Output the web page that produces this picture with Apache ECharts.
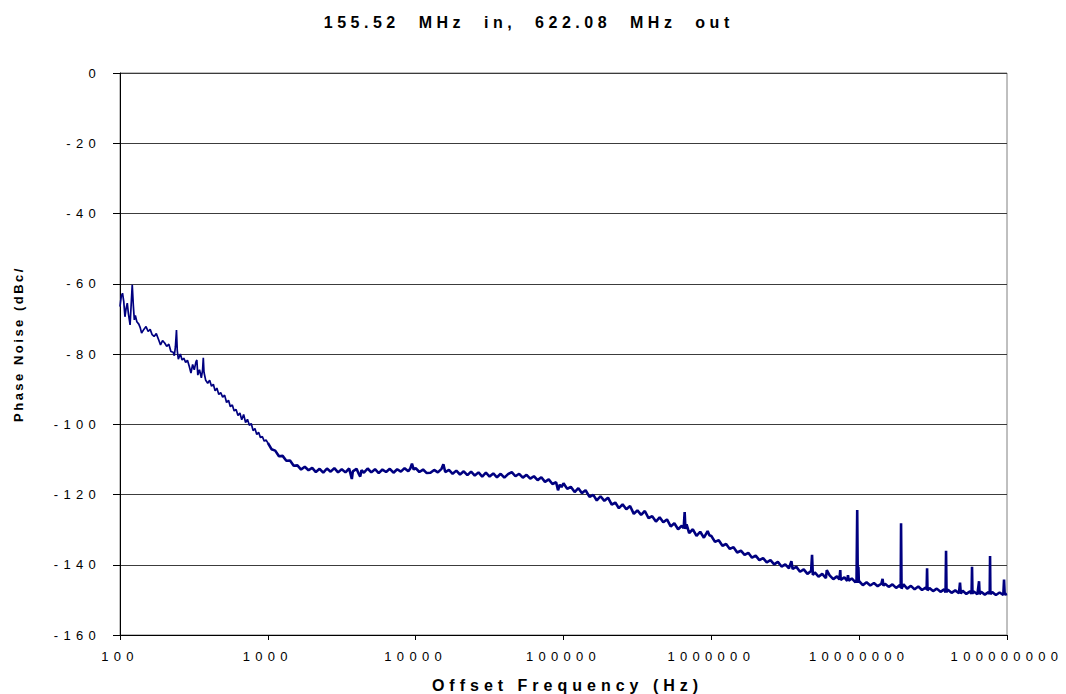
<!DOCTYPE html>
<html>
<head>
<meta charset="utf-8">
<script src="https://cdn.jsdelivr.net/npm/echarts@6/dist/echarts.min.js"></script>
<style>
html,body{margin:0;padding:0;background:#fff;}
#chart{width:1066px;height:694px;}
</style>
</head>
<body>
<div id="chart"></div>
<script>
// ---- data ----
const titleText = '155.52 MHz in, 622.08 MHz out';
const xAxisTitle = 'Offset Frequency (Hz)';
const yAxisTitle = 'Phase Noise (dBc/';
const xTicks = [100, 1000, 10000, 100000, 1000000, 10000000, 100000000];
const yTicks = [0, -20, -40, -60, -80, -100, -120, -140, -160];

// [offset frequency (Hz), phase noise (dBc/Hz)]
const trace100Hz = [
  [100,-66.5],[102,-63.5],[104,-62.7],[106,-65],[108,-69.4],[110,-67],[112,-65.5],[114,-68.5],[117,-71.7],[119,-66],
  [121,-60.3],[123,-66],[125,-70.3],[127,-69],[130,-70.8],[134,-71.5],[137,-72.5],[140,-74],[145,-73],[150,-72.2],
  [155,-73.6],[160,-73],[165,-74.5],[170,-75],[176,-74.2],[182,-75.8],[188,-77.4],[194,-76.2],[200,-76.8],[207,-77.8],
  [214,-77.2],[221,-79.3],[229,-79.5],[233,-80.5],[237,-78],[241,-73.2],[244,-79],[248,-81.5],[256,-80],[263,-81.7],
  [270,-81.2],[278,-82.4],[286,-81.8],[294,-83.5],[302,-85.4],[310,-83],[318,-84.5],[326,-82.3],[331,-81.7],[336,-86],
  [345,-84.5],[355,-86.8],[362,-84.5],[366,-81.1],[370,-85.2],[380,-87.5],[392,-88.3],[404,-87.5],[416,-89.2],[428,-88.6],
  [440,-90.5],[452,-89.7],[466,-91.5],[480,-91],[495,-92.3],[510,-91.7],[526,-93.8],[542,-93.2],[558,-95],[575,-94.5],
  [592,-96.2],[610,-95.8],[628,-97.5],[647,-96.8],[666,-98.7],[686,-97.2],[707,-99.5],[728,-98.6],[750,-100.3],[772,-99.8],
  [795,-101.8],[818,-101.2],[842,-102.9],[866,-102.3],[892,-103.8],[918,-103.5],[945,-104.8],[972,-104.5]
];
const trace1kHz = [
  [1000,-105.3],[1059,-107.1],[1122,-107.5],[1189,-109.1],[1259,-109],[1334,-110.4],[1413,-110.3],[1496,-111.8],[1585,-111.7],[1679,-112.9],
  [1778,-112.1],[1884,-113.1],[1995,-112.4],[2113,-113.6],[2239,-112.7],[2371,-113.8],[2512,-112.6],[2661,-113.5],[2818,-112.5],[2985,-113.7],
  [3162,-112.8],[3350,-113.7],[3548,-112.6],[3700,-115.6],[3758,-113.4],[3981,-112.7],[4100,-113.9],[4217,-114.9],[4300,-113.1],[4467,-113.8],
  [4732,-112.6],[5012,-113.7],[5309,-112.8],[5623,-113.9],[5957,-112.9],[6310,-113.6],[6683,-112.7],[7079,-113.8],[7499,-112.8],[7943,-113.5],
  [8414,-112.5],[8913,-113.4],[9200,-112.6],[9441,-111.2],[9700,-112.9]
];
const trace10kHz = [
  [10000,-112.5],[10593,-113.6],[11220,-112.9],[11885,-113.9],[12589,-113.8],[13335,-113],[14125,-113.7],[14962,-112.7],[15400,-111.4],[15849,-113.6],
  [16788,-113],[17783,-114.1],[18836,-113.2],[19953,-114.3],[21135,-113.4],[22387,-114.5],[23714,-113.5],[25119,-114.6],[26607,-113.7],[28184,-114.9],
  [29854,-113.8],[31623,-114.9],[33497,-114],[35481,-115.1],[37584,-114.1],[39811,-115.2],[42170,-114.2],[44668,-113.6],[47315,-114.8],[50119,-114.1],
  [53088,-115.2],[56234,-114.4],[59566,-115.5],[63096,-114.8],[66834,-115.9],[70795,-115.1],[74989,-116.4],[79433,-115.7],[84140,-117],[89125,-116.5],
  [91800,-118.8],[94406,-117.2],[97000,-117.9]
];
const trace100kHz = [
  [100000,-116.8],[106000,-118.4],[112000,-117.8],[119000,-119.3],[126000,-118.2],[133000,-119.6],[141000,-118.8],[150000,-120.7],[159000,-120.1],[168000,-121.7],
  [178000,-120.5],[189000,-121.8],[200000,-120.9],[212000,-122.9],[224000,-122.3],[237000,-123.9],[251000,-122.8],[266000,-124.2],[282000,-123.3],[299000,-125.5],
  [316000,-124.5],[335000,-125.8],[355000,-124.7],[376000,-126.7],[398000,-126.2],[422000,-127.7],[447000,-126.5],[473000,-127.9],[501000,-127.1],[531000,-129.1],
  [562000,-128.2],[596000,-129.9],[631000,-128.9],[650000,-129.6],[660000,-125],[668000,-129.8],[680000,-128.5],[708000,-131],[750000,-129.9],[794000,-131.8],
  [841000,-130.6],[891000,-132.3],[944000,-130.4],[970000,-131.6]
];
const trace1MHz = [
  [1000000,-131.8],[1059000,-133.5],[1122000,-133],[1189000,-134.6],[1259000,-134.1],[1334000,-135.5],[1413000,-135],[1496000,-136.5],[1585000,-136],[1679000,-137.2],
  [1778000,-136.6],[1884000,-138],[1995000,-137.4],[2113000,-138.7],[2239000,-138.1],[2371000,-139.3],[2512000,-138.7],[2661000,-139.9],[2818000,-139.2],[2985000,-140.5],
  [3162000,-139.9],[3350000,-141],[3480000,-139],[3548000,-141.2],[3758000,-140.6],[3981000,-142],[4217000,-141.3],[4467000,-142.6],[4732000,-141.8],[4800000,-137.2],
  [4860000,-142.9],[5012000,-142.2],[5309000,-143.4],[5623000,-142.6],[5957000,-143.8],[6040000,-141.5],[6310000,-143],[6683000,-144.1],[7079000,-143.3],[7350000,-144.2],
  [7450000,-141.5],[7499000,-144.3],[7943000,-143.6],[8300000,-144.6],[8400000,-143],[8500000,-144.5],[8913000,-143.9],[9441000,-145],[9600000,-144.3],[9700000,-124.4],
  [9790000,-145.2],[9880000,-140.6],[9950000,-145]
];
const trace10MHz = [
  [10000000,-144.7],[10593000,-145.8],[11220000,-145],[11885000,-145.9],[12589000,-145.2],[13335000,-146.1],[14125000,-145.4],[14400000,-144],[14600000,-146],[14962000,-145.4],
  [15849000,-146.3],[16788000,-145.6],[17783000,-146.6],[18836000,-145.8],[19100000,-146.5],[19200000,-128.2],[19350000,-146.8],[19953000,-145.6],[21135000,-146.8],[22387000,-146],
  [23714000,-147],[25119000,-146.2],[26607000,-147.2],[28184000,-146.5],[28600000,-147],[28800000,-141],[29000000,-147.3],[29854000,-146.6],[31623000,-147.5],[33497000,-146.8],
  [35481000,-147.7],[37584000,-147],[38400000,-147.9],[38700000,-136],[39000000,-147.8],[39811000,-147.1],[42170000,-148],[44668000,-147.3],[47315000,-148.1],[48100000,-145.1],
  [48700000,-148.2],[50119000,-147.4],[53088000,-148.3],[56234000,-147.6],[57600000,-148.3],[58000000,-140.6],[58400000,-148.2],[59566000,-147.6],[63096000,-148.4],[64700000,-144.7],
  [65300000,-148.4],[66834000,-147.7],[70795000,-148.5],[74989000,-147.8],[76400000,-148.3],[76800000,-137.5],[77200000,-148.4],[79433000,-147.8],[84140000,-148.6],[89125000,-147.9],
  [94406000,-148.6],[95500000,-144.2],[96500000,-148.5],[100000000,-148.3]
];

const lowBandData = trace100Hz.concat([trace1kHz[0]]);
const highBandData = [].concat(trace1kHz, trace10kHz, trace100kHz, trace1MHz, trace10MHz);

const FONT = '"Liberation Sans", Arial, sans-serif';
const chart = echarts.init(document.getElementById('chart'), null, {renderer: 'svg'});

chart.setOption({
  animation: false,
  backgroundColor: '#ffffff',
  grid: {
    left: 120, right: 59, top: 73, bottom: 59,
    containLabel: false, outerBoundsMode: 'none',
    show: true, borderColor: '#808080', borderWidth: 1, backgroundColor: 'transparent'
  },
  xAxis: {
    type: 'log', logBase: 10,
    min: xTicks[0], max: xTicks[xTicks.length - 1],
    splitNumber: xTicks.length - 1,
    axisLine: {show: true, onZero: false, lineStyle: {color: '#000', width: 1}},
    axisTick: {show: true, length: 5, inside: false, lineStyle: {color: '#000'}},
    minorTick: {show: false},
    splitLine: {show: false},
    axisLabel: {
      margin: 15, color: '#000', fontSize: 13, fontFamily: FONT,
      formatter: v => String(Math.round(v))
    }
  },
  yAxis: {
    type: 'value',
    min: yTicks[yTicks.length - 1], max: yTicks[0], interval: 20,
    axisLine: {show: true, onZero: false, lineStyle: {color: '#000', width: 1}},
    axisTick: {show: true, length: 7, inside: false, lineStyle: {color: '#000'}},
    splitLine: {show: true, lineStyle: {color: '#3c3c3c', width: 1}},
    axisLabel: {margin: 19, color: '#000', fontSize: 13, fontFamily: FONT}
  },
  graphic: [
    {type: 'text', x: 528.75, y: 22, silent: true,
     style: {text: titleText, fontSize: 16, fontWeight: 'bold', fontFamily: FONT, fill: '#000',
             textAlign: 'center', textVerticalAlign: 'middle', align: 'center', verticalAlign: 'middle'}},
    {type: 'text', x: 567.5, y: 685, silent: true,
     style: {text: xAxisTitle, fontSize: 16, fontWeight: 'bold', fontFamily: FONT, fill: '#000',
             textAlign: 'center', textVerticalAlign: 'middle', align: 'center', verticalAlign: 'middle'}},
    {type: 'text', x: 18.5, y: 344, rotation: Math.PI / 2, silent: true,
     style: {text: yAxisTitle, fontSize: 13, fontWeight: 'bold', fontFamily: FONT, fill: '#000',
             textAlign: 'center', textVerticalAlign: 'middle', align: 'center', verticalAlign: 'middle'}}
  ],
  series: [{
    name: 'low', type: 'line', data: lowBandData,
    showSymbol: false, symbol: 'none', silent: true,
    lineStyle: {color: '#000080', width: 1.7}, z: 3
  }, {
    name: 'high', type: 'line', data: highBandData,
    showSymbol: false, symbol: 'none', silent: true,
    lineStyle: {color: '#000080', width: 2.6}, z: 3
  }]
});

function applySpacing() {
  document.querySelectorAll('#chart text').forEach(t => {
    const s = t.textContent;
    if (s === titleText) { t.style.letterSpacing = '4.5px'; t.style.wordSpacing = '10px'; }
    else if (s === xAxisTitle) { t.style.letterSpacing = '5px'; }
    else if (s === yAxisTitle) { t.style.letterSpacing = '2.5px'; }
    else { t.style.letterSpacing = '5.3px'; }
  });
}
applySpacing();
chart.on('finished', applySpacing);
setTimeout(applySpacing, 0);
</script>
</body>
</html>
